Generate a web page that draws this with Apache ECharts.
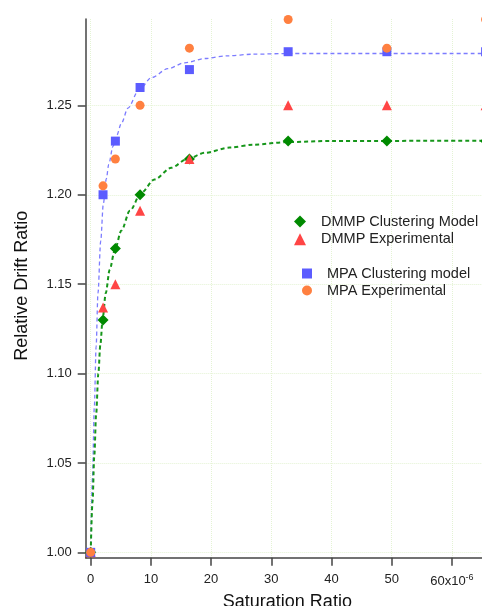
<!DOCTYPE html>
<html>
<head>
<meta charset="utf-8">
<script src="https://cdn.jsdelivr.net/npm/echarts@6/dist/echarts.min.js"></script>
<style>
  html, body { margin: 0; padding: 0; background: #fff; }
  #chart { width: 482px; height: 606px; }
</style>
</head>
<body>
<div id="chart"></div>
<script>
// Saturation ratio (x 1e-6) at which drift ratios were measured / modelled
const satRatio = [0, 2.05, 4.1, 8.2, 16.4, 32.8, 49.2, 65.6];

// Relative drift ratio values
const dmmpModel = [1.000, 1.130, 1.170, 1.200, 1.220, 1.230, 1.230, 1.230];
const dmmpExp   = [1.000, 1.137, 1.150, 1.191, 1.220, 1.250, 1.250, 1.250];
const mpaModel  = [1.000, 1.200, 1.230, 1.260, 1.270, 1.280, 1.280, 1.280];
const mpaExp    = [1.000, 1.205, 1.220, 1.250, 1.282, 1.298, 1.282, 1.298];

// Fitted curves (dashed)
const mpaFitX = [0, 0.3, 0.6, 0.9, 1.21, 1.66, 2.1, 2.6, 3.0, 3.7, 4.3, 5.1, 6.2, 7.9, 10.1, 12.8, 15.6, 19, 22.6, 27, 33, 66];
const mpaFitY = [1.000, 1.042, 1.081, 1.115, 1.145, 1.174, 1.195, 1.209, 1.217, 1.227, 1.233, 1.240, 1.2485, 1.258, 1.2655, 1.2705, 1.2738, 1.2762, 1.2777, 1.2786, 1.279, 1.279];
const dmmpFitX = [0, 0.3, 0.6, 0.9, 1.27, 1.6, 2.0, 2.5, 3.15, 4.0, 5.1, 6.5, 8.4, 10.6, 13.4, 15.9, 19, 23.1, 27, 32.8, 40, 66];
const dmmpFitY = [1.000, 1.028, 1.054, 1.077, 1.100, 1.116, 1.131, 1.145, 1.158, 1.169, 1.180, 1.191, 1.2011, 1.2086, 1.2151, 1.2197, 1.2235, 1.2264, 1.228, 1.2295, 1.2301, 1.2302];

// Tick labels
const xTicks = [0, 10, 20, 30, 40, 50, 60];
const yTicks = [1.00, 1.05, 1.10, 1.15, 1.20, 1.25];

const pairs = (xs, ys) => xs.map((x, i) => [x, ys[i]]);

const FONT = '"Liberation Sans", Arial, Helvetica, sans-serif';

const chart = echarts.init(document.getElementById('chart'), null, { renderer: 'canvas' });

const gridLine = { show: true, lineStyle: { color: '#e4f3d4', type: 'dotted', width: 1 } };
const axisLineStyle = { show: true, onZero: false, lineStyle: { color: '#444', width: 1.5 } };
const legendText = { fontFamily: FONT, fontSize: 14.5, color: '#222', padding: [0, 0, 0, 10] };

chart.setOption({
  backgroundColor: '#fff',
  animation: false,
  grid: { left: 85.7, right: 0, top: 19, bottom: 48.3, outerBoundsMode: 'none', containLabel: false },
  xAxis: {
    type: 'value',
    min: -0.83,
    max: 65.0,
    name: 'Saturation Ratio',
    nameLocation: 'middle',
    nameGap: 28,
    nameTextStyle: { fontFamily: FONT, fontSize: 18, color: '#111', padding: [0, 0, 0, 7] },
    axisLine: axisLineStyle,
    axisTick: { show: true, length: 8, customValues: xTicks, lineStyle: { color: '#444', width: 1.5 } },
    axisLabel: {
      customValues: xTicks,
      margin: 15,
      fontFamily: FONT,
      fontSize: 13,
      color: '#222',
      formatter: v => (v === 60 ? '60x10{sup|-6}' : String(v)),
      rich: {
        sup: { fontFamily: FONT, fontSize: 9, color: '#222', verticalAlign: 'top', padding: [0, 0, 8, 0] }
      }
    },
    splitLine: gridLine
  },
  yAxis: {
    type: 'value',
    min: 0.997,
    max: 1.2983,
    name: 'Relative Drift Ratio',
    nameLocation: 'middle',
    nameGap: 55,
    nameTextStyle: { fontFamily: FONT, fontSize: 18, color: '#111', padding: [0, 0, 0, 5] },
    axisLine: axisLineStyle,
    axisTick: { show: true, length: 8, customValues: yTicks, lineStyle: { color: '#444', width: 1.5 } },
    axisLabel: {
      customValues: yTicks,
      margin: 14,
      fontFamily: FONT,
      fontSize: 13,
      color: '#222',
      formatter: v => v.toFixed(2)
    },
    splitLine: gridLine
  },
  legend: [
    {
      orient: 'vertical',
      left: 289,
      top: 209,
      itemWidth: 12,
      itemHeight: 12,
      itemGap: 2.7,
      textStyle: legendText,
      data: ['DMMP Clustering Model', 'DMMP Experimental']
    },
    {
      orient: 'vertical',
      left: 297,
      top: 261,
      itemWidth: 10,
      itemHeight: 10,
      itemGap: 2,
      textStyle: legendText,
      data: ['MPA Clustering model', 'MPA Experimental']
    }
  ],
  series: [
    {
      name: 'MPA fit',
      type: 'line',
      data: pairs(mpaFitX, mpaFitY),
      showSymbol: false,
      smooth: 0.3,
      smoothMonotone: 'x',
      lineStyle: { color: '#7c7cff', width: 1.3, type: [4, 3] },
      z: 1
    },
    {
      name: 'DMMP fit',
      type: 'line',
      data: pairs(dmmpFitX, dmmpFitY),
      showSymbol: false,
      smooth: 0.3,
      smoothMonotone: 'x',
      lineStyle: { color: '#16961a', width: 2, type: [4, 3] },
      z: 1
    },
    {
      name: 'DMMP Clustering Model',
      type: 'scatter',
      symbol: 'diamond',
      symbolSize: 11,
      clip: false,
      data: pairs(satRatio, dmmpModel),
      itemStyle: { color: '#008a00', opacity: 1 },
      z: 2
    },
    {
      name: 'DMMP Experimental',
      type: 'scatter',
      symbol: 'triangle',
      symbolSize: 10,
      clip: false,
      data: pairs(satRatio, dmmpExp),
      itemStyle: { color: '#ff4545', opacity: 1 },
      z: 3
    },
    {
      name: 'MPA Clustering model',
      type: 'scatter',
      symbol: 'rect',
      symbolSize: 9,
      clip: false,
      data: pairs(satRatio, mpaModel),
      itemStyle: { color: '#5c5cff', opacity: 1 },
      z: 4
    },
    {
      name: 'MPA Experimental',
      type: 'scatter',
      symbol: 'circle',
      symbolSize: 9,
      clip: false,
      data: pairs(satRatio, mpaExp),
      itemStyle: { color: '#ff8040', opacity: 1 },
      z: 5
    }
  ]
});
</script>
</body>
</html>
